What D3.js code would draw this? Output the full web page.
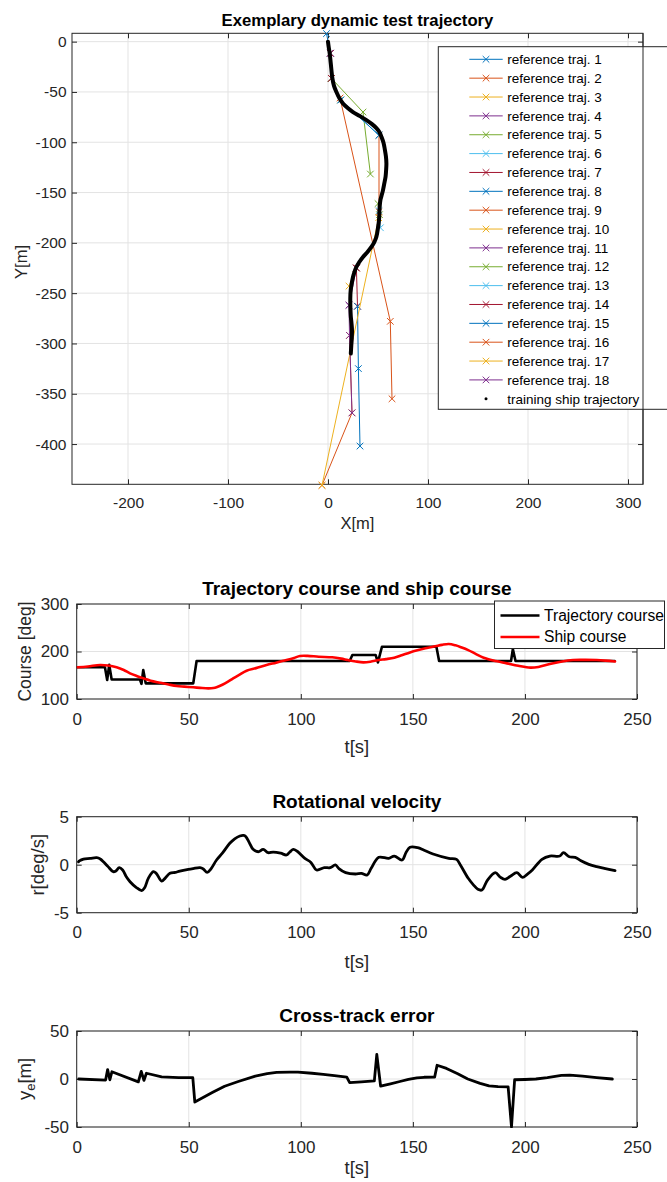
<!DOCTYPE html>
<html><head><meta charset="utf-8">
<script src="https://cdn.jsdelivr.net/npm/d3@7"></script>
<style>
body{margin:0;background:#fff}
svg{display:block}
text{font-family:"Liberation Sans",Arial,Helvetica,sans-serif}
</style>
</head><body>
<svg id="c" width="667" height="1182"></svg>
<script>
// ---------- DATA ----------
const xTicksTop = [-200, -100, 0, 100, 200, 300];
const yTicksTop = [-400, -350, -300, -250, -200, -150, -100, -50, 0];
const tTicks = [0, 50, 100, 150, 200, 250];
const courseTicks = [100, 200, 300];
const rotTicks = [-5, 0, 5];
const xteTicks = [-50, 0, 50];

const matlabColors = ["#0072BD", "#D95319", "#EDB120", "#7E2F8E", "#77AC30", "#4DBEEE", "#A2142F"];

// reference trajectories [X, Y] in metres
const refTrajectories = [
  [[-1.5, 8], [2.4, -11.5], [3.4, -36.5]],
  [[51, -93], [51, -169]],
  [[3.4, -36.5], [12.7, -58]],
  [[2.4, -11.5], [3.4, -36.5]],
  [[3.4, -36.5], [35, -70], [42.4, -131.6]],
  [[12.7, -58], [51, -93]],
  [[2.4, -11.5], [3.4, -36.5]],
  [[12.7, -58], [51, -93]],
  [[12, -56], [62.3, -278], [64, -355]],
  [[28.4, -225], [21, -243]],
  [[28.4, -225], [21, -262]],
  [[50, -161], [51.5, -172]],
  [[51, -168], [52.4, -185]],
  [[28.4, -225], [29.5, -263]],
  [[29.5, -263], [30.4, -325], [32, -402]],
  [[21.5, -292], [24, -369], [-6, -441]],
  [[50.7, -175], [-6, -441]],
  [[21, -262], [21.5, -292], [24, -369]]
];
const refLabels = refTrajectories.map((_, i) => "reference traj. " + (i + 1));

// training ship trajectory [X, Y]
const shipTrajectory = [
  [0, 0], [0.8, -6], [1.7, -11.5], [2.8, -22], [4.4, -36.5], [6, -44], [8.4, -50], [11.3, -56],
  [15, -61.5], [20, -66.3], [25, -70], [32, -74], [38.4, -78], [44, -82], [48.4, -86], [51.5, -90],
  [53.4, -94.5], [55.5, -100.5], [56.8, -107], [57.9, -114], [58.4, -121], [58.1, -128], [57.6, -134],
  [56.3, -141], [55, -147.6], [53.6, -153], [52.4, -157.5], [51.6, -165], [51, -177.4], [50, -185],
  [48.4, -194], [46.2, -199.5], [43.4, -204], [39.5, -209], [35, -214], [31.3, -219], [28.4, -224],
  [26.4, -229], [25, -234], [23.6, -241], [22.7, -247], [22.3, -255], [22.4, -264], [22.8, -273],
  [23.5, -280], [24, -287], [23.8, -295], [23.3, -302], [22.8, -310]
];

// trajectory course [t, deg]
const trajectoryCourse = [
  [0.3, 167], [12.6, 167], [13.6, 140], [14.5, 172], [15.6, 141], [28.2, 141], [28.9, 132], [29.7, 161],
  [30.8, 133], [52, 133], [53.5, 180], [121.8, 180], [123, 192.6], [133.4, 192.6], [134.4, 177],
  [136.2, 210], [160.5, 210], [161.7, 180], [193.8, 180], [194.6, 205], [195.8, 180], [240, 180]
];
// ship course [t, deg]
const shipCourse = [
  [0.3, 166.7], [5, 168.5], [10.4, 171.6], [14, 170.5], [17.8, 166.7], [21, 161], [23.8, 154], [27, 148],
  [29.7, 143.5], [33, 138.5], [37.1, 134.3], [41, 130.5], [44.6, 127.4], [48, 126], [52, 124.6], [55, 123.5],
  [58.7, 122.4], [61, 123], [62.4, 124.6], [65, 130], [67.5, 136.5], [69.8, 143.5], [72.5, 151], [75.8, 159.6],
  [80, 165], [84.7, 171.6], [89, 176.5], [93.6, 182], [97, 186.5], [99.6, 190.5], [103, 190.8], [108, 189],
  [114, 187.8], [118, 185], [121, 182], [124.5, 179], [127.9, 177.2], [131, 178.5], [134.8, 182], [138, 184],
  [141.7, 187], [145, 192], [148.7, 198], [152, 202.5], [155.6, 206.7], [160, 211], [163, 214], [166, 215.8],
  [169, 213], [171.5, 209], [174.7, 203], [178, 195], [181.6, 187], [186, 181], [192, 175], [197, 170],
  [202.4, 166], [206, 167.5], [211.1, 173.7], [216, 178.5], [221.5, 182], [227, 182.3], [232, 182],
  [236, 180.8], [240.2, 179]
];
// rotational velocity [t, deg/s]
const rotVelocity = [
  [0.8, 0.3], [1.2, 0.39], [3, 0.59], [6, 0.65], [8.9, 0.73], [10.5, 0.6], [11.9, 0.31], [14, -0.2],
  [16.3, -0.73], [17.5, -0.65], [19, -0.31], [20.5, -0.55], [22, -1.2], [23.8, -1.77], [26.5, -2.35],
  [29, -2.7], [30.3, -2.4], [32, -1.4], [34.2, -0.73], [35.5, -0.9], [37.9, -1.7], [39.5, -1.4],
  [41.6, -0.9], [44, -0.8], [46, -0.66], [49.8, -0.48], [52, -0.4], [55, -0.31], [56.5, -0.45],
  [58.2, -0.8], [60, -0.4], [62.4, 0.49], [65, 1.2], [68.3, 2.23], [70.5, 2.7], [72.8, 2.99], [74.5, 3.05],
  [75.5, 2.92], [77, 2.3], [78.7, 1.6], [81, 1.35], [83.2, 1.6], [85.4, 1.25], [87.7, 1.32], [91, 1.2],
  [93.6, 1.01], [95, 1.3], [96.6, 1.6], [98.4, 1.4], [101.8, 0.66], [104.5, 0.24], [107, -0.55],
  [110.5, -0.31], [113.1, -0.31], [115.4, -0.03], [117, -0.4], [120, -0.83], [124.4, -0.97], [127, -0.9],
  [129.6, -1.07], [131.4, -0.38], [134.8, 0.77], [139.2, 0.66], [141.7, 0.9], [145.2, 0.49], [147, 1.3],
  [148.7, 1.81], [152.1, 1.77], [155, 1.5], [159, 1.11], [166, 0.66], [169.5, 0.56], [171.2, -0.03],
  [174.7, -1.42], [177, -2.1], [179, -2.56], [180.8, -2.64], [183.3, -1.6], [186.8, -0.83], [189, -1.3],
  [191.1, -1.52], [193.5, -1.2], [196.4, -0.83], [198.9, -1.32], [201, -1], [203.3, -0.55], [207.6, 0.56],
  [211.1, 0.9], [215.5, 0.9], [217.2, 1.25], [219.8, 0.83], [222.4, 0.77], [225, 0.4], [228.5, 0.04],
  [232, -0.2], [235.4, -0.38], [240.2, -0.62]
];
// cross-track error [t, m]
const crossTrackError = [
  [0.9, 0], [12.9, -1.1], [13.8, 9.8], [14.8, -0.8], [15.7, 7.5], [27.5, -3], [28.8, 7.9], [30, -1.5],
  [31.1, 6], [37.9, 2.3], [45.5, 1.5], [51.8, 1.5], [52.7, -24], [60.7, -13.9], [66, -7.5], [72.1, -2.6],
  [79.7, 3], [85, 5.5], [89.2, 6.8], [95, 7.2], [98.7, 7.1], [105, 6], [110, 4.9], [115, 3.5], [120.5, 1.9],
  [121.8, -3.8], [127, -3], [132.8, -1.9], [133.9, 25.6], [135.6, -7.5], [140, -5], [144.2, -2.6],
  [148, -0.5], [151.8, 1.1], [155, 1.8], [159.7, 1.9], [160.8, 14.3], [165, 11], [170, 5.5], [174.5, 0],
  [180, -4.5], [184, -7.1], [188, -8], [192.5, -8.3], [194, -50], [195.4, -0.8], [200, -0.5], [204.9, 0],
  [210, 1.5], [216.3, 3.8], [220, 4], [225.7, 3], [232, 1.5], [239, 0]
];

// ---------- DRAWING ----------
const FONT = '"Liberation Sans", Arial, Helvetica, sans-serif';
const AX = "#262626", GRID = "#e3e3e3";
const svg = d3.select("#c");
const fmt = d => String(d);   // MATLAB style: plain hyphen-minus

function drawAxes(g, x, y, xt, yt, fs, xPad, yPad, tick) {
  const [xl, xr] = x.range();
  const [yb, ytp] = y.range();
  g.append("g").selectAll("line").data(xt).join("line")
    .attr("x1", d => x(d)).attr("x2", d => x(d)).attr("y1", ytp).attr("y2", yb)
    .attr("stroke", GRID).attr("stroke-width", 1);
  g.append("g").selectAll("line").data(yt).join("line")
    .attr("y1", d => y(d)).attr("y2", d => y(d)).attr("x1", xl).attr("x2", xr)
    .attr("stroke", GRID).attr("stroke-width", 1);
  const style = sel => {
    sel.select(".domain").remove();
    sel.attr("font-family", FONT).attr("font-size", fs);
    sel.selectAll("line").attr("stroke", AX);
    sel.selectAll("text").attr("fill", AX);
  };
  g.append("g").attr("transform", `translate(0,${yb})`)
    .call(d3.axisBottom(x).tickValues(xt).tickSizeInner(-tick).tickSizeOuter(0).tickPadding(xPad).tickFormat(fmt)).call(style);
  g.append("g").attr("transform", `translate(0,${ytp})`)
    .call(d3.axisTop(x).tickValues(xt).tickSizeInner(-tick).tickSizeOuter(0).tickFormat("")).call(style);
  g.append("g").attr("transform", `translate(${xl},0)`)
    .call(d3.axisLeft(y).tickValues(yt).tickSizeInner(-tick).tickSizeOuter(0).tickPadding(yPad).tickFormat(fmt)).call(style);
  g.append("g").attr("transform", `translate(${xr},0)`)
    .call(d3.axisRight(y).tickValues(yt).tickSizeInner(-tick).tickSizeOuter(0).tickFormat("")).call(style);
  g.append("rect").attr("x", xl).attr("y", ytp).attr("width", xr - xl).attr("height", yb - ytp)
    .attr("fill", "none").attr("stroke", AX).attr("stroke-width", 1);
}

function xMarker(sel, cx, cy, s, color) {
  sel.append("path")
    .attr("d", `M${cx - s},${cy - s}L${cx + s},${cy + s}M${cx - s},${cy + s}L${cx + s},${cy - s}`)
    .attr("stroke", color).attr("stroke-width", 1).attr("fill", "none");
}

// ===== Chart 1: XY trajectory =====
{
  const x = d3.scaleLinear().domain([-256, 315]).range([72, 643]);
  const y = d3.scaleLinear().domain([-440, 8.3]).range([484.3, 33.3]);
  const g = svg.append("g");
  drawAxes(g, x, y, xTicksTop, yTicksTop, 15.5, 13, 5.5, 5);

  const clipId = "clip1";
  svg.append("clipPath").attr("id", clipId).append("rect")
    .attr("x", 72).attr("y", 28).attr("width", 571).attr("height", 462);
  const pg = g.append("g").attr("clip-path", `url(#${clipId})`);
  const line = d3.line().x(d => x(d[0])).y(d => y(d[1]));
  refTrajectories.forEach((tr, i) => {
    const c = matlabColors[i % 7];
    pg.append("path").attr("d", line(tr)).attr("fill", "none").attr("stroke", c).attr("stroke-width", 1);
    tr.forEach(p => xMarker(pg, x(p[0]), y(p[1]), 3.3, c));
  });
  pg.append("path").attr("d", d3.line().x(d => x(d[0])).y(d => y(d[1])).curve(d3.curveCatmullRom)(shipTrajectory))
    .attr("fill", "none").attr("stroke", "#000").attr("stroke-width", 4).attr("stroke-linecap", "round").attr("stroke-linejoin", "round");

  // title & labels
  svg.append("text").attr("x", 357.5).attr("y", 26).attr("text-anchor", "middle")
    .attr("font-weight", "bold").attr("font-size", 16.7).attr("fill", "#000").text("Exemplary dynamic test trajectory");
  svg.append("text").attr("x", 357.5).attr("y", 529).attr("text-anchor", "middle")
    .attr("font-size", 16.5).attr("fill", AX).text("X[m]");
  svg.append("text").attr("transform", "translate(27,262) rotate(-90)").attr("text-anchor", "middle")
    .attr("font-size", 16.5).attr("fill", AX).text("Y[m]");

  // legend
  const lg = svg.append("g");
  lg.append("rect").attr("x", 438.3).attr("y", 46.7).attr("width", 240).attr("height", 362.6)
    .attr("fill", "#fff").attr("stroke", AX).attr("stroke-width", 1);
  refLabels.forEach((lab, i) => {
    const cy = 59.3 + i * 18.86;
    const c = matlabColors[i % 7];
    lg.append("line").attr("x1", 469.3).attr("x2", 502.7).attr("y1", cy).attr("y2", cy).attr("stroke", c).attr("stroke-width", 1);
    xMarker(lg, 486, cy, 3.3, c);
    lg.append("text").attr("x", 507.3).attr("y", cy).attr("dy", "0.35em").attr("font-size", 13.5).attr("fill", "#000").text(lab);
  });
  const cyLast = 59.3 + 18 * 18.86;
  lg.append("circle").attr("cx", 486).attr("cy", cyLast).attr("r", 1.5).attr("fill", "#000");
  lg.append("text").attr("x", 507.3).attr("y", cyLast).attr("dy", "0.35em").attr("font-size", 13.5).attr("fill", "#000").text("training ship trajectory");
  // axes right border over legend
  svg.append("line").attr("x1", 643).attr("x2", 643).attr("y1", 33.3).attr("y2", 484.3).attr("stroke", AX).attr("stroke-width", 1);
}

// ===== time-series charts =====
function tsChart(cfg) {
  const x = d3.scaleLinear().domain([0, 250]).range([76.7, 637]);
  const y = d3.scaleLinear().domain(cfg.domain).range([cfg.bottom, cfg.top]);
  const g = svg.append("g");
  drawAxes(g, x, y, tTicks, cfg.ticks, 17, 13.5, 7.7, 5);
  const id = "clip" + cfg.id;
  svg.append("clipPath").attr("id", id).append("rect")
    .attr("x", 76.7).attr("y", cfg.top - 1).attr("width", 560.3).attr("height", cfg.bottom - cfg.top + 2);
  const pg = g.append("g").attr("clip-path", `url(#${id})`);
  cfg.series.forEach(s => {
    const ln = d3.line().x(d => x(d[0])).y(d => y(d[1])).curve(s.curve || d3.curveLinear);
    pg.append("path").attr("d", ln(s.data)).attr("fill", "none").attr("stroke", s.color)
      .attr("stroke-width", s.width).attr("stroke-linejoin", "round").attr("stroke-linecap", "round");
  });
  svg.append("text").attr("x", 356.85).attr("y", cfg.top - 9).attr("text-anchor", "middle")
    .attr("font-weight", "bold").attr("font-size", 19).attr("fill", "#000").text(cfg.title);
  svg.append("text").attr("x", 356.85).attr("y", cfg.bottom + cfg.xlabOff).attr("text-anchor", "middle")
    .attr("font-size", 18.5).attr("fill", AX).text("t[s]");
  const yl = svg.append("text").attr("transform", `translate(${cfg.ylabX},${(cfg.top + cfg.bottom) / 2}) rotate(-90)`)
    .attr("text-anchor", "middle").attr("font-size", cfg.ylabSize || 18.5).attr("fill", AX);
  cfg.ylabel(yl);
  return { x, y };
}

tsChart({
  id: 2, top: 604, bottom: 699, domain: [100, 300], ticks: courseTicks,
  title: "Trajectory course and ship course", ylabX: 31, ylabSize: 17.5, xlabOff: 54,
  ylabel: t => t.text("Course [deg]"),
  series: [
    { data: trajectoryCourse, color: "#000", width: 2.6 },
    { data: shipCourse, color: "#ff0000", width: 2.6, curve: d3.curveCatmullRom }
  ]
});
// legend chart 2
{
  const lg = svg.append("g");
  lg.append("rect").attr("x", 494.5).attr("y", 601).attr("width", 170).attr("height", 47.5)
    .attr("fill", "#fff").attr("stroke", AX).attr("stroke-width", 1);
  [["Trajectory course", "#000", 615.5], ["Ship course", "#ff0000", 637]].forEach(([lab, c, cy]) => {
    lg.append("line").attr("x1", 500.5).attr("x2", 539.5).attr("y1", cy).attr("y2", cy).attr("stroke", c).attr("stroke-width", 2.6);
    lg.append("text").attr("x", 544).attr("y", cy).attr("dy", "0.35em").attr("font-size", 15.6).attr("fill", "#000").text(lab);
  });
}

tsChart({
  id: 3, top: 816.7, bottom: 912.7, domain: [-5, 5], ticks: rotTicks,
  title: "Rotational velocity", ylabX: 44, xlabOff: 55,
  ylabel: t => t.text("r[deg/s]"),
  series: [{ data: rotVelocity, color: "#000", width: 2.8, curve: d3.curveCatmullRom }]
});

tsChart({
  id: 4, top: 1031, bottom: 1127, domain: [-50, 50], ticks: xteTicks,
  title: "Cross-track error", ylabX: 30.5, xlabOff: 47,
  ylabel: t => {
    t.append("tspan").text("y");
    t.append("tspan").attr("font-size", 13).attr("dy", 4).text("e");
    t.append("tspan").attr("dy", -4).text("[m]");
  },
  series: [{ data: crossTrackError, color: "#000", width: 2.8 }]
});
</script>
</body></html>
